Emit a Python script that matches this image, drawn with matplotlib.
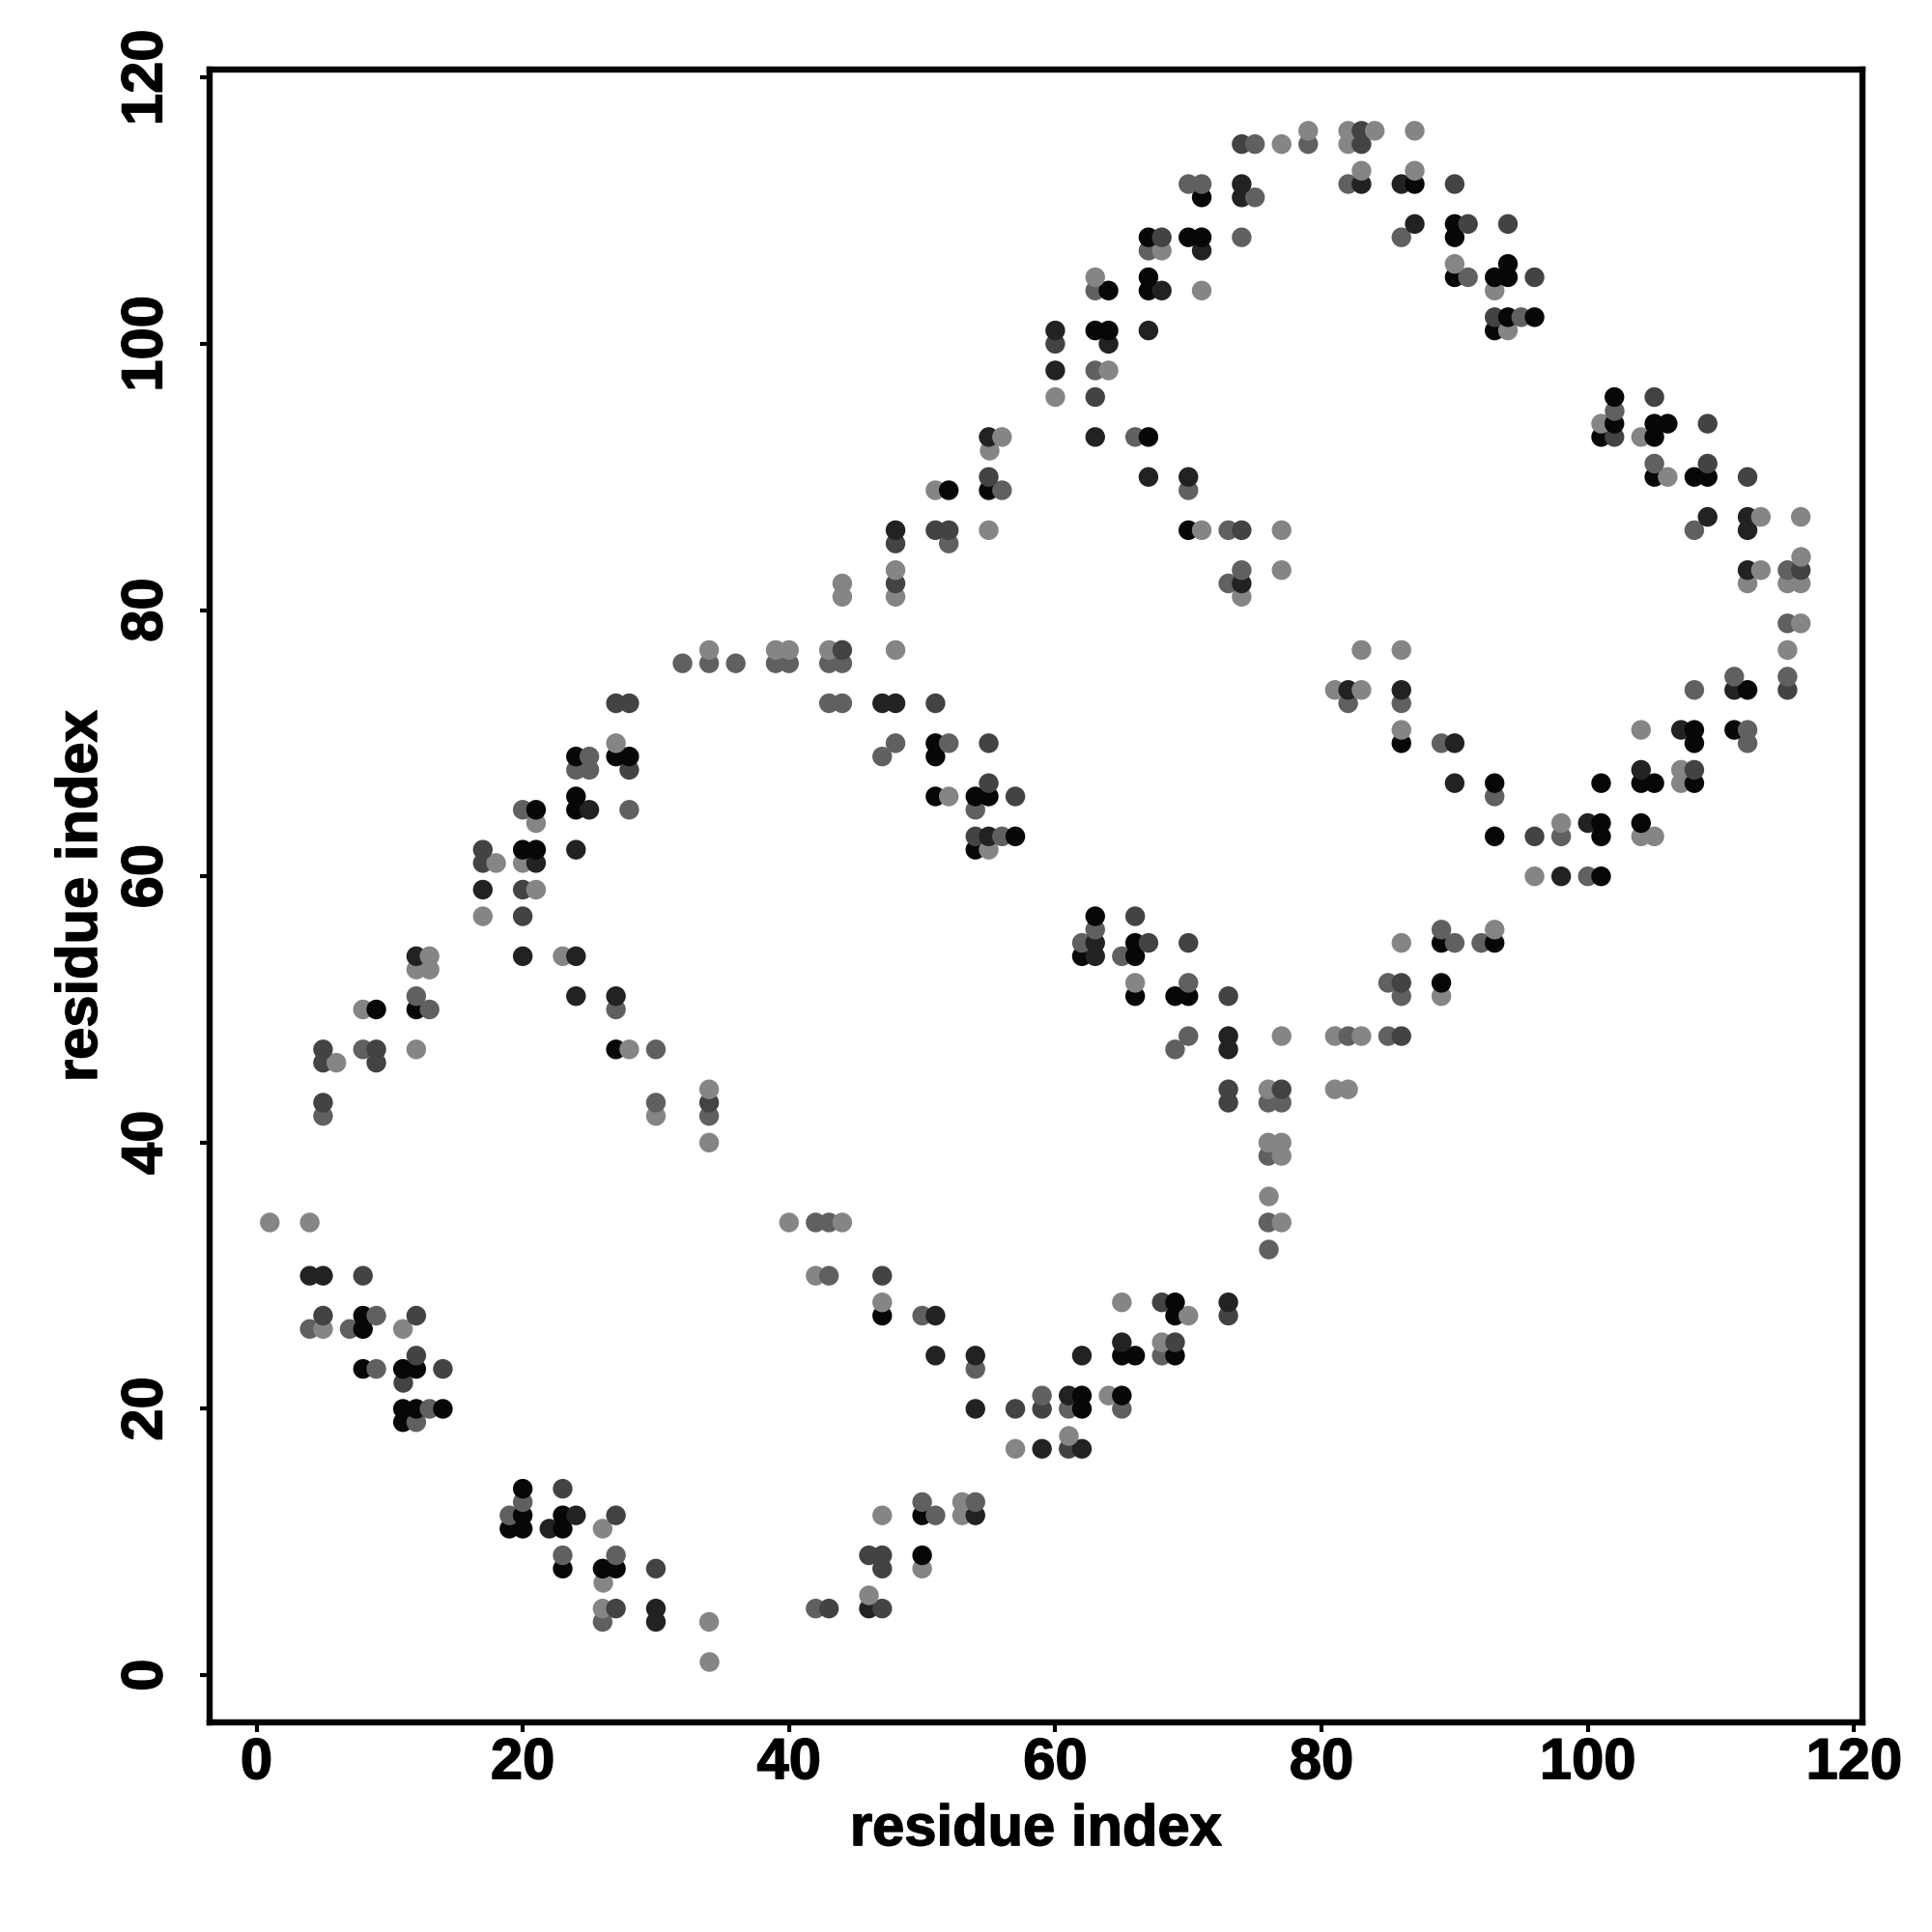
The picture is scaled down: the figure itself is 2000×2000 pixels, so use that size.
import matplotlib
matplotlib.use("Agg")
import matplotlib.pyplot as plt
import matplotlib.patheffects as pe

# contact rows: y residue, x residues on that row, grey level of each point
rows = [1, 4, 5, 6, 7, 8, 9, 11, 12, 13, 14, 17, 18, 19, 20, 21, 22, 23, 24, 25,
        26, 27, 28, 30, 32, 34, 36, 39, 40, 42, 43, 44, 46, 47, 48, 50, 51, 52, 53, 54,
        55, 56, 57, 59, 60, 61, 62, 63, 64, 65, 66, 67, 68, 69, 70, 71, 73, 74, 75, 76,
        77, 79, 81, 82, 83, 84, 85, 86, 87, 89, 90, 91, 92, 93, 94, 95, 96, 98, 100, 101,
        102, 104, 105, 106, 107, 108, 109, 111, 112, 113, 115, 116]

row_x = [
    [34], [26, 30, 34], [26, 27, 30, 42, 43, 46, 47], [46], [26],
    [23, 26, 27, 30, 47, 50], [23, 27, 46, 47, 50], [19, 20, 22, 23, 26],
    [19, 20, 23, 24, 27, 47, 50, 51, 53, 54], [20, 50, 53, 54], [20, 23],
    [57, 59, 61, 62], [61], [11, 12],
    [11, 12, 13, 14, 54, 57, 59, 61, 62, 65], [59, 61, 62, 64, 65], [11],
    [8, 9, 11, 12, 14, 54], [12, 51, 54, 62, 65, 66, 68, 69], [65, 68, 69],
    [4, 5, 7, 8, 11], [5, 8, 9, 12, 47, 50, 51, 69, 70, 73], [47, 65, 68, 69, 73],
    [4, 5, 8, 42, 43, 47], [76], [1, 4, 40, 42, 43, 44, 76, 77], [76], [76, 77],
    [34, 76, 77], [5, 30, 34], [5, 30, 34, 73, 76, 77], [34, 73, 76, 77, 81, 82],
    [5, 6, 9], [5, 8, 9, 12, 27, 28, 30, 69, 73],
    [70, 73, 77, 81, 82, 83, 85, 86], [8, 9, 12, 13, 27],
    [12, 24, 27, 66, 69, 70, 73, 86, 89], [66, 70, 85, 86, 89], [12, 13],
    [12, 13, 20, 23, 24, 62, 63, 65, 66],
    [62, 63, 66, 67, 70, 86, 89, 90, 92, 93], [63, 89, 93], [17, 20, 63, 66],
    [17, 20, 21], [96, 98, 100, 101], [17, 18, 20, 21], [17, 20, 21, 24, 54, 55],
    [54, 55, 56, 57, 93, 96, 98, 101, 104, 105], [21, 98, 100, 101, 104],
    [20, 21, 24, 25, 28, 54], [24, 51, 52, 54, 55, 57, 93],
    [55, 90, 93, 101, 104, 105, 107, 108], [24, 25, 28, 104, 107, 108],
    [24, 25, 27, 28, 47, 51], [27, 48, 51, 52, 55, 86, 89, 90, 108, 112],
    [86, 104, 107, 108, 111, 112], [27, 28, 43, 44, 47, 48, 51, 82, 86],
    [81, 82, 83, 86, 108, 111, 112, 115], [111, 115],
    [32, 34, 36, 39, 40, 43, 44], [34, 39, 40, 43, 44, 48, 83, 86, 115],
    [115, 116], [44, 48, 74], [44, 48, 73, 74, 112, 115, 116],
    [48, 74, 77, 112, 113, 115, 116], [116], [48, 52],
    [48, 51, 52, 55, 70, 71, 73, 74, 77, 108, 112], [109, 112, 113, 116],
    [51, 52, 55, 56, 70], [55, 67, 70, 105, 106, 108, 109, 112], [105, 109], [55],
    [55, 56, 63, 66, 67, 101, 102, 104, 105], [101, 102, 105, 106, 109], [102],
    [60, 63, 102, 105], [60, 63, 64], [60, 64], [60, 63, 64, 67, 93, 94],
    [93, 94, 95, 96], [63, 64, 67, 68, 71, 93],
    [63, 67, 90, 91, 93, 94, 96], [90, 94], [67, 68, 71],
    [67, 68, 70, 71, 74, 86, 90], [87, 90, 91, 94], [71, 74, 75],
    [70, 71, 74, 82, 83, 86, 87, 90], [83, 87], [74, 75, 77, 79, 82, 83],
    [79, 82, 83, 84, 87],
]

row_shade = [
    [4], [3, 1, 4], [4, 2, 1, 3, 2, 1, 2], [4], [4],
    [0, 0, 0, 2, 2, 4], [3, 3, 2, 2, 0], [0, 0, 1, 0, 4],
    [3, 0, 0, 1, 2, 4, 0, 3, 4, 1], [3, 3, 4, 3], [0, 2],
    [4, 1, 2, 1], [4], [0, 3],
    [0, 0, 3, 0, 1, 2, 2, 3, 0, 3], [3, 1, 0, 4, 0], [2],
    [0, 3, 0, 0, 2, 3], [2, 1, 1, 1, 0, 0, 3, 0], [1, 4, 2],
    [3, 4, 3, 0, 4], [2, 0, 3, 2, 0, 3, 1, 0, 4, 2], [4, 4, 2, 0, 1],
    [1, 1, 2, 4, 3, 2], [3], [4, 4, 4, 3, 3, 4, 3, 4], [4], [3, 4],
    [4, 4, 4], [3, 4, 3], [2, 3, 2, 2, 3, 3], [4, 2, 4, 2, 4, 4],
    [2, 4, 2], [2, 3, 2, 4, 0, 4, 3, 3, 1],
    [3, 1, 4, 4, 3, 4, 3, 2], [4, 0, 0, 3, 3],
    [3, 1, 1, 0, 0, 0, 2, 3, 4], [4, 3, 3, 2, 0], [4, 4],
    [1, 4, 1, 4, 1, 0, 1, 3, 0],
    [3, 1, 0, 2, 2, 4, 0, 3, 3, 0], [3, 3, 4], [4, 2, 0, 2],
    [1, 2, 4], [4, 1, 3, 0], [2, 4, 4, 1], [2, 0, 0, 1, 0, 4],
    [2, 1, 3, 0, 0, 2, 3, 0, 4, 4], [4, 4, 1, 0, 0],
    [3, 0, 0, 1, 3, 3], [0, 0, 4, 0, 0, 2, 3],
    [2, 1, 0, 0, 0, 0, 4, 0], [3, 3, 2, 1, 4, 2],
    [0, 3, 0, 0, 3, 0], [4, 3, 0, 3, 2, 0, 3, 1, 0, 3],
    [4, 4, 1, 0, 0, 3], [2, 2, 3, 3, 1, 1, 2, 3, 3],
    [4, 1, 4, 1, 3, 1, 0, 2], [3, 3],
    [3, 3, 3, 3, 3, 3, 3], [4, 4, 4, 4, 2, 4, 4, 4, 4],
    [3, 4], [4, 4, 4], [4, 2, 3, 1, 4, 4, 4],
    [4, 3, 4, 1, 4, 3, 2], [4], [2, 3],
    [1, 2, 2, 4, 0, 4, 3, 2, 4, 3, 1], [1, 1, 4, 4],
    [4, 0, 0, 3, 3], [2, 1, 1, 0, 4, 0, 0, 2], [3, 2], [4],
    [1, 4, 1, 3, 0, 0, 2, 4, 0], [4, 0, 0, 0, 2], [3],
    [4, 2, 0, 2], [1, 3, 4], [2, 1], [1, 0, 0, 1, 0, 4],
    [2, 0, 3, 0], [3, 0, 0, 1, 4, 4],
    [4, 0, 0, 3, 0, 0, 2], [4, 0], [3, 4, 1],
    [0, 2, 0, 0, 3, 3, 0], [1, 0, 2, 2], [0, 1, 3],
    [3, 3, 1, 3, 1, 1, 0, 2], [4, 4], [2, 3, 4, 3, 4, 2],
    [4, 4, 2, 4, 4],
]

greys = ["#070707", "#222222", "#434343", "#606060", "#858585"]

plt.rcParams["font.family"] = ["Liberation Sans", "DejaVu Sans"]
plt.rcParams["font.weight"] = "bold"

fig = plt.figure(figsize=(20, 20), dpi=100)
ax = fig.add_axes([217 / 2000, 1 - 1783 / 2000, 1711 / 2000, 1711 / 2000])

for y, xs, shades in zip(rows, row_x, row_shade):
    ax.scatter(xs, [y] * len(xs), s=215, c=[greys[s] for s in shades],
               linewidths=0, zorder=3, clip_on=False)

ax.set_xlim(-3.52, 120.63)
ax.set_ylim(-3.55, 120.6)
ticks = [0, 20, 40, 60, 80, 100, 120]
ax.set_xticks(ticks)
ax.set_yticks(ticks)
ax.tick_params(axis="both", length=7, width=3, labelsize=43)
ax.tick_params(axis="x", pad=4)
ax.tick_params(axis="y", pad=20)
for lab in ax.get_yticklabels():
    lab.set_rotation(90)
    lab.set_va("center")
for side in ax.spines.values():
    side.set_linewidth(4.6)

ax.set_xlabel("residue index", fontsize=43, fontweight="bold", labelpad=10)
ax.set_ylabel("residue index", fontsize=43, fontweight="bold", labelpad=9)

# the original face is a bit heavier than Liberation bold
heavy = [pe.withStroke(linewidth=1, foreground="black")]
for lab in ax.get_xticklabels() + ax.get_yticklabels() + [ax.xaxis.label, ax.yaxis.label]:
    lab.set_path_effects(heavy)

fig.savefig("out.png", dpi=100)
